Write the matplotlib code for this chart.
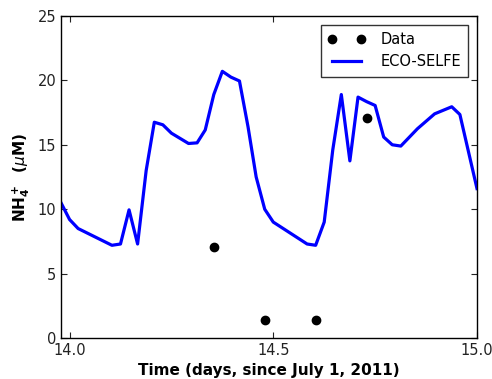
import matplotlib
matplotlib.use('Agg')
import matplotlib.pyplot as plt

# model run (ECO-SELFE), half-hour output, vertices
t_model = [13.979, 14.0, 14.021, 14.104, 14.125, 14.146, 14.167, 14.188,
           14.208, 14.229, 14.25, 14.292, 14.313, 14.333, 14.354, 14.375,
           14.396, 14.417, 14.438, 14.458, 14.479, 14.5, 14.583, 14.604,
           14.625, 14.646, 14.667, 14.688, 14.708, 14.729, 14.75, 14.771,
           14.792, 14.813, 14.854, 14.896, 14.938, 14.958, 15.0]
nh4_model = [10.5, 9.2, 8.5, 7.2, 7.3, 9.95, 7.3, 13.0,
             16.75, 16.55, 15.9, 15.1, 15.15, 16.15, 18.9, 20.7,
             20.25, 19.95, 16.4, 12.5, 10.0, 9.0, 7.3, 7.2,
             9.0, 14.6, 18.9, 13.75, 18.7, 18.35, 18.05, 15.6,
             15.0, 14.9, 16.25, 17.4, 17.95, 17.35, 11.6]

# observations
t_obs = [14.354, 14.479, 14.604, 14.729]
nh4_obs = [7.1, 1.4, 1.4, 17.1]

fig = plt.figure(figsize=(4.92, 3.79), dpi=100)
ax = fig.add_axes([0.124, 0.108, 0.8455, 0.85])

ax.plot(t_obs, nh4_obs, 'ko', markersize=6, label='Data')
ax.plot(t_model, nh4_model, 'b-', linewidth=2.3, label='ECO-SELFE')

ax.set_xlim(13.979, 15.0)
ax.set_ylim(0, 25)
ax.set_xticks([14.0, 14.5, 15.0])
ax.set_xticklabels(['14.0', '14.5', '15.0'])
ax.set_yticks([0, 5, 10, 15, 20, 25])
ax.tick_params(direction='in', top=True, right=True, labelsize=10.5,
               length=4, colors='#222222')
for s in ax.spines.values():
    s.set_linewidth(1.0)

ax.set_xlabel('Time (days, since July 1, 2011)', fontsize=11, fontweight='bold')
ax.set_ylabel(r'$\mathbf{NH_4^+}$  ($\mu$M)', fontsize=11, fontweight='bold')

leg = ax.legend(loc='upper right', numpoints=2, fontsize=10.5, fancybox=False,
                borderaxespad=0.6, borderpad=0.5, handlelength=2.6,
                handletextpad=1.0)
leg.get_frame().set_edgecolor('black')
leg.get_frame().set_linewidth(1.0)

fig.savefig('out.png', dpi=100)
